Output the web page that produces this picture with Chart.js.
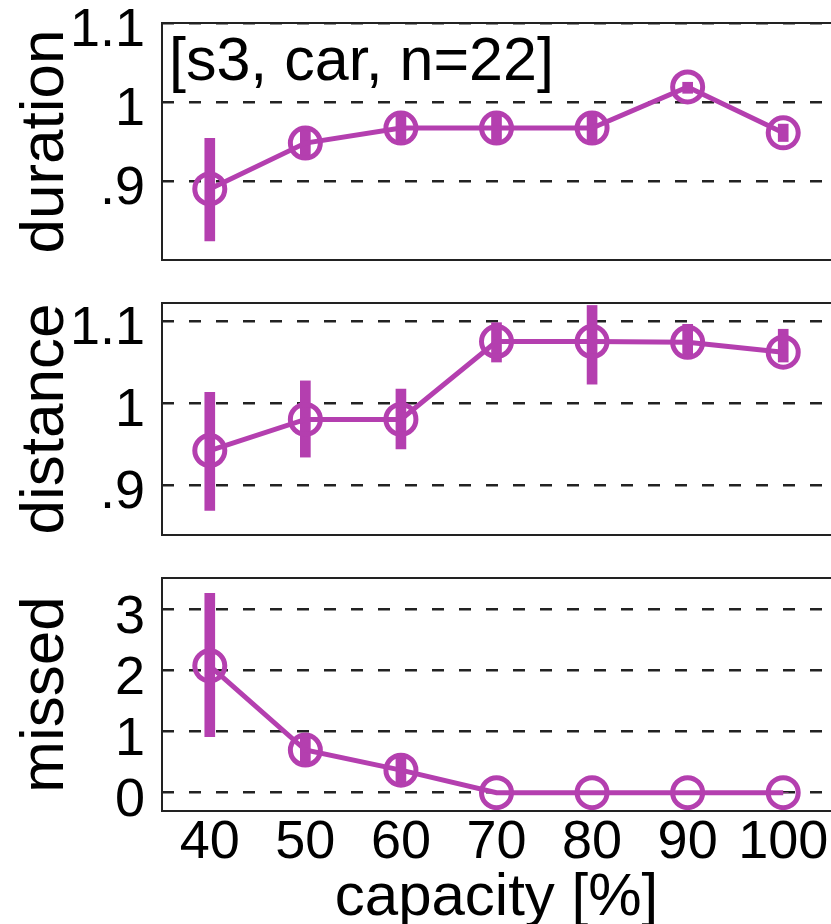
<!DOCTYPE html>
<html>
<head>
<meta charset="utf-8">
<script src="https://cdn.jsdelivr.net/npm/chart.js@4/dist/chart.umd.min.js"></script>
<style>
  html, body { margin: 0; padding: 0; overflow: hidden; background: #fff; width: 831px; height: 924px; }
  .panel { position: absolute; left: 0; }
  canvas { display: block; }
</style>
</head>
<body>
<div class="panel" style="top:0px"><canvas id="durationChart" width="831" height="280"></canvas></div>
<div class="panel" style="top:280px"><canvas id="distanceChart" width="831" height="280"></canvas></div>
<div class="panel" style="top:560px"><canvas id="missedChart" width="831" height="364"></canvas></div>
<script>
// capacity levels on the shared x axis
const capacity = ['40', '50', '60', '70', '80', '90', '100'];

// relative trip duration: mean with lower / upper error bounds
const durationMean = [0.890, 0.948, 0.967, 0.967, 0.967, 1.019, 0.961];
const durationLow  = [0.824, 0.930, 0.950, 0.950, 0.950, 1.011, 0.950];
const durationHigh = [0.954, 0.966, 0.984, 0.984, 0.984, 1.025, 0.972];

// relative travelled distance
const distanceMean = [0.942, 0.980, 0.980, 1.075, 1.075, 1.074, 1.062];
const distanceLow  = [0.869, 0.934, 0.944, 1.050, 1.023, 1.054, 1.050];
const distanceHigh = [1.013, 1.027, 1.017, 1.098, 1.119, 1.096, 1.090];

// number of missed requests
const missedMean = [2.08, 0.70, 0.37, 0, 0, 0, 0];
const missedLow  = [0.92, 0.45, 0.16, 0, 0, 0, 0];
const missedHigh = [3.27, 0.95, 0.59, 0, 0, 0, 0];

// y tick values and their printed labels
const durationTicks = [0.9, 1.0, 1.1];
const durationTickLabels = ['.9', '1', '1.1'];
const distanceTicks = [0.9, 1.0, 1.1];
const distanceTickLabels = ['.9', '1', '1.1'];
const missedTicks = [0, 1, 2, 3];
const missedTickLabels = ['0', '1', '2', '3'];

const panelLabel = '[s3, car, n=22]';
const xTitle = 'capacity [%]';

const COLOR = '#B43FAF';
const FONT = "'Liberation Sans', Arial, Helvetica, sans-serif";

Chart.defaults.color = '#000';
Chart.defaults.font.family = FONT;

const PLOT_LEFT = 162;
// the plotting region runs a little past the right edge of the page
const PAD_RIGHT = -3;

// keep the plotting region exactly where the layout padding puts it
function fixScalePadding(scale) {
  scale.paddingTop = 0;
  scale.paddingBottom = 0;
  scale.paddingLeft = 0;
  scale.paddingRight = PAD_RIGHT;
}

// frame around each plotting region; its right side lies off the page
const framePlugin = {
  id: 'frame',
  afterDatasetsDraw(chart) {
    const { ctx, chartArea: a, width } = chart;
    const xEnd = width + 10;
    ctx.save();
    ctx.strokeStyle = '#222';
    ctx.lineWidth = 2;
    ctx.beginPath();
    ctx.moveTo(xEnd, a.top);
    ctx.lineTo(a.left, a.top);
    ctx.lineTo(a.left, a.bottom);
    ctx.lineTo(xEnd, a.bottom);
    ctx.stroke();
    ctx.restore();
  }
};

// scenario label in the upper panel
const labelPlugin = {
  id: 'panelLabel',
  afterDraw(chart, args, opts) {
    if (!opts.text) return;
    const { ctx, chartArea: a } = chart;
    ctx.save();
    ctx.font = '61px ' + FONT;
    ctx.fillStyle = '#000';
    ctx.textAlign = 'left';
    ctx.textBaseline = 'alphabetic';
    ctx.fillText(opts.text, a.left + 7, a.top + 57);
    ctx.restore();
  }
};

function makePanel(id, cfg) {
  const ranges = cfg.low.map((lo, i) => [lo, cfg.high[i]]);
  return new Chart(document.getElementById(id), {
    type: 'line',
    data: {
      labels: capacity,
      datasets: [
        {
          type: 'line',
          data: cfg.mean,
          borderColor: COLOR,
          borderWidth: 5,
          tension: 0,
          pointRadius: 15,
          pointBorderWidth: 5,
          pointBorderColor: COLOR,
          pointBackgroundColor: 'rgba(0,0,0,0)',
          order: 0
        },
        {
          type: 'bar',
          data: ranges,
          backgroundColor: COLOR,
          borderWidth: 0,
          barThickness: 10,
          order: 1
        }
      ]
    },
    options: {
      responsive: false,
      animation: false,
      events: [],
      layout: {
        autoPadding: false,
        padding: { top: cfg.padTop, bottom: cfg.padBottom, left: 0, right: PAD_RIGHT }
      },
      plugins: {
        legend: { display: false },
        tooltip: { enabled: false },
        panelLabel: { text: cfg.label || '' }
      },
      scales: {
        x: {
          type: 'category',
          offset: true,
          display: cfg.showX,
          grid: { display: false, drawTicks: false },
          border: { display: false },
          ticks: { font: { size: 54 }, padding: 0, maxRotation: 0, autoSkip: false },
          title: { display: true, text: xTitle, font: { size: 60 }, padding: { top: 0, bottom: -10 } },
          afterFit(scale) {
            if (cfg.xHeight) scale.height = cfg.xHeight;
            fixScalePadding(scale);
          }
        },
        y: {
          type: 'linear',
          min: cfg.min,
          max: cfg.max,
          afterBuildTicks(scale) { scale.ticks = cfg.ticks.map(v => ({ value: v })); },
          afterFit(scale) {
            scale.width = PLOT_LEFT;
            fixScalePadding(scale);
          },
          grid: { color: '#222', lineWidth: 2.5, drawTicks: false },
          border: { display: false, dash: [12, 15] },
          ticks: {
            font: { size: 54 },
            padding: 17,
            labelOffset: 8,
            autoSkip: false,
            callback(v) {
              const i = cfg.ticks.findIndex(t => Math.abs(t - v) < 1e-9);
              return i >= 0 ? cfg.tickLabels[i] : '';
            }
          },
          title: { display: true, text: cfg.title, font: { size: 62 }, padding: { top: 9, bottom: 0 } }
        }
      }
    },
    plugins: [framePlugin, labelPlugin]
  });
}

makePanel('durationChart', {
  mean: durationMean, low: durationLow, high: durationHigh,
  min: 0.8, max: 1.1, ticks: durationTicks, tickLabels: durationTickLabels,
  title: 'duration', padTop: 23, padBottom: 20, showX: false, label: panelLabel
});

makePanel('distanceChart', {
  mean: distanceMean, low: distanceLow, high: distanceHigh,
  min: 0.839, max: 1.122, ticks: distanceTicks, tickLabels: distanceTickLabels,
  title: 'distance', padTop: 23, padBottom: 25, showX: false
});

makePanel('missedChart', {
  mean: missedMean, low: missedLow, high: missedHigh,
  min: -0.3, max: 3.52, ticks: missedTicks, tickLabels: missedTickLabels,
  title: 'missed', padTop: 18, padBottom: 0, showX: true, xHeight: 113
});
</script>
</body>
</html>
